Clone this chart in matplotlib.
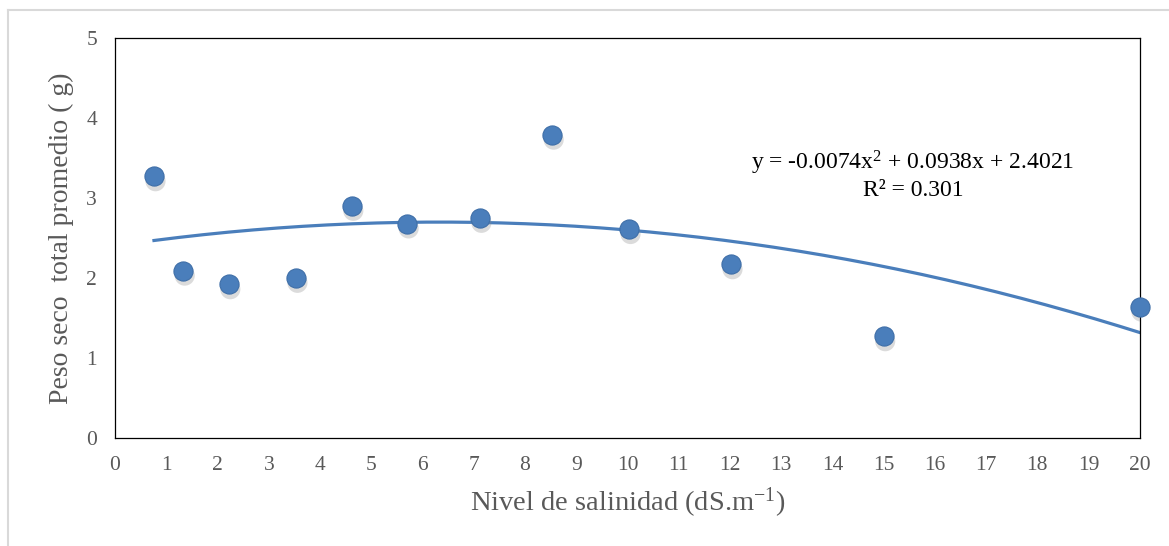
import numpy as np
import matplotlib
matplotlib.use("Agg")
from matplotlib import pyplot as plt
from matplotlib.lines import Line2D

# salinity level (dS/m) and mean total dry weight (g)
salinidad = [0.76, 1.33, 2.22, 3.53, 4.62, 5.70, 7.12, 8.53, 10.03, 12.02, 15.0, 20.0]
peso_seco = [3.27, 2.09, 1.92, 2.00, 2.90, 2.68, 2.75, 3.79, 2.61, 2.17, 1.27, 1.64]

# polynomial trend line coefficients, as printed on the chart
coef = [-0.0074, 0.0938, 2.4021]
r2 = 0.301

xticks = list(range(0, 21))
yticks = list(range(0, 6))

plt.rcParams['font.family'] = ['Liberation Serif', 'DejaVu Serif']
plt.rcParams['mathtext.fontset'] = 'custom'
plt.rcParams['mathtext.rm'] = 'Liberation Serif'
plt.rcParams['mathtext.it'] = 'Liberation Serif:italic'

blue = '#4a7ebb'
gray = '#595959'

fig = plt.figure(figsize=(11.69, 5.46), dpi=100)
ax = fig.add_axes([0.0984, 0.1978, 0.8767, 0.7325])

# trend line
xt = np.linspace(min(salinidad), max(salinidad), 200)
ax.plot(xt, np.polyval(coef, xt), color=blue, lw=2.3, zorder=2)

# points with a soft shadow
ax.scatter(np.array(salinidad) + 0.03, np.array(peso_seco) - 0.06, s=210,
           color='#8a8a8a', alpha=0.3, edgecolors='none', zorder=3)
ax.scatter(salinidad, peso_seco, s=190, color=blue, edgecolors='#3f6fa8',
           linewidths=0.8, zorder=4, clip_on=False)

ax.set_xlim(0, 20)
ax.set_ylim(0, 5)
ax.set_xticks(xticks)
ax.set_yticks(yticks)
ax.tick_params(length=0, labelsize=15.5, colors=gray, pad=13)
for s in ax.spines.values():
    s.set_color('black')
    s.set_linewidth(0.9)

ax.set_xlabel(r'Nivel de salinidad (dS.m$^{\mathrm{-1}}$)', fontsize=20.5,
              color=gray, labelpad=8)
ax.set_ylabel('Peso seco  total promedio ( g)', fontsize=20, color=gray,
              labelpad=9)

eq = 'y = %.4fx$^{\\mathrm{2}}$ + %.4fx + %.4f' % tuple(coef)
ax.text(15.57, 3.44, eq, ha='center', va='center', fontsize=17, color='black')
ax.text(15.57, 3.10, 'R² = %.3f' % r2, ha='center', va='center',
        fontsize=17, color='black')

# light outer frame of the screenshot
fig.add_artist(Line2D([8 / 1169, 1], [1 - 10 / 546, 1 - 10 / 546],
                      transform=fig.transFigure, color='#d9d9d9', lw=1.5))
fig.add_artist(Line2D([8 / 1169, 8 / 1169], [0, 1 - 10 / 546],
                      transform=fig.transFigure, color='#d9d9d9', lw=1.5))

fig.savefig('out.png', dpi=100)
